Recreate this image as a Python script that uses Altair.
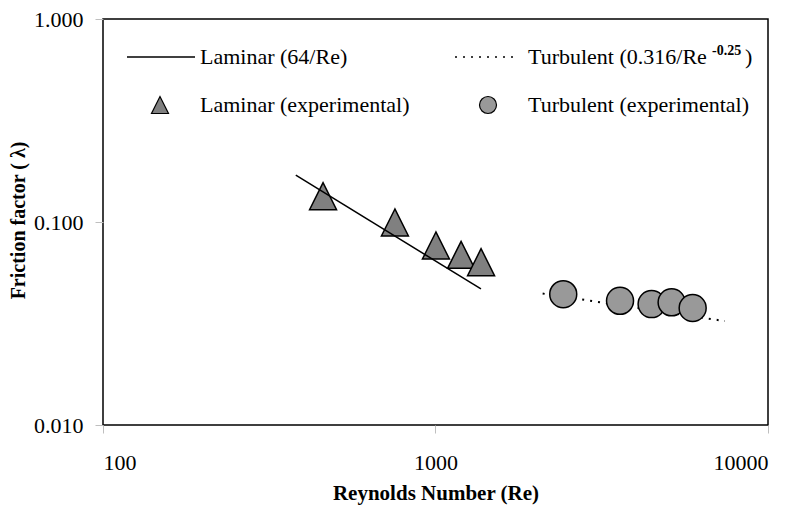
import altair as alt
import pandas as pd

# ---- data ----
lam_line_re = [380, 1370]
lam_line_f = [0.170, 0.0468]
turb_line_re = [2100, 7420]
turb_line_f = [0.0444, 0.0325]
lam_exp_re = [459, 755, 1003, 1194, 1371]
lam_exp_f = [0.134, 0.0994, 0.0766, 0.0689, 0.0634]
turb_exp_re = [2422, 3589, 4466, 5130, 5935]
turb_exp_f = [0.0441, 0.0409, 0.0394, 0.0402, 0.0377]

x_ticks = [100, 1000, 10000]
y_ticks = [0.01, 0.1, 1.0]

FONT = "Liberation Serif"
TRI = "M0,-1L-1,1L1,1Z"

xs = alt.Scale(type="log", domain=[100, 10000], nice=False)
ys = alt.Scale(type="log", domain=[0.01, 1.0], nice=False)

xax = alt.Axis(values=x_ticks, format="d", title="Reynolds Number (Re)", grid=False,
               domain=False, tickColor="#bfbfbf", tickSize=8, labelPadding=19,
               labelFont=FONT, labelFontSize=22, labelColor="black",
               titleFont=FONT, titleFontSize=21, titleFontWeight="bold",
               titleColor="black", titlePadding=9)
yax = alt.Axis(values=y_ticks, format=".3f", title="Friction factor ( λ)", grid=False,
               domain=False, tickColor="#bfbfbf", tickSize=8, labelPadding=12,
               labelFont=FONT, labelFontSize=22, labelColor="black",
               titleFont=FONT, titleFontSize=20, titleFontWeight="bold",
               titleColor="black", titleX=-85, titleY=201, titleAngle=270,
               titleAlign="center", titleBaseline="middle")

lam_line_df = pd.DataFrame({"Re": lam_line_re, "f": lam_line_f})
turb_line_df = pd.DataFrame({"Re": turb_line_re, "f": turb_line_f})
lam_df = pd.DataFrame({"Re": lam_exp_re, "f": lam_exp_f})
turb_df = pd.DataFrame({"Re": turb_exp_re, "f": turb_exp_f})

turb_line = alt.Chart(turb_line_df).mark_line(color="black", strokeWidth=2, strokeDash=[2, 6]).encode(
    x=alt.X("Re:Q", scale=xs, axis=xax), y=alt.Y("f:Q", scale=ys, axis=yax))
turb_pts = alt.Chart(turb_df).mark_point(shape="circle", filled=True, fill="#999999", stroke="black",
                                         strokeWidth=1.5, size=729, opacity=1).encode(
    x=alt.X("Re:Q", scale=xs), y=alt.Y("f:Q", scale=ys))
lam_pts = alt.Chart(lam_df).mark_point(shape=TRI, filled=True, fill="#808080", stroke="black",
                                       strokeWidth=1.5, size=729, opacity=1).encode(
    x=alt.X("Re:Q", scale=xs), y=alt.Y("f:Q", scale=ys))
lam_line = alt.Chart(lam_line_df).mark_line(color="black", strokeWidth=1.5).encode(
    x=alt.X("Re:Q", scale=xs), y=alt.Y("f:Q", scale=ys))

# ---- legend (drawn inside the plot area) ----
one = pd.DataFrame({"k": [0]})
def txt(s, x, y, size=22, weight="normal"):
    return alt.Chart(one).mark_text(text=s, font=FONT, fontSize=size, fontWeight=weight,
                                    align="left", baseline="middle", color="black").encode(
        x=alt.value(x), y=alt.value(y))

R1, R2 = 38, 86
leg = [
    alt.Chart(one).mark_rule(color="black", strokeWidth=1.5).encode(
        x=alt.value(24), x2=alt.value(92), y=alt.value(R1)),
    txt("Laminar (64/Re)", 97, R1),
    alt.Chart(one).mark_rule(color="black", strokeWidth=1.5, strokeDash=[2, 6]).encode(
        x=alt.value(352), x2=alt.value(414), y=alt.value(R1)),
    txt("Turbulent (0.316/Re", 425, R1),
    txt("-0.25", 609, R1 - 6, size=14, weight="bold"),
    txt(")", 642, R1),
    alt.Chart(one).mark_point(shape=TRI, filled=True, fill="#808080", stroke="black",
                              strokeWidth=1.2, size=289, opacity=1).encode(
        x=alt.value(57), y=alt.value(R2)),
    txt("Laminar (experimental)", 97, R2),
    alt.Chart(one).mark_point(shape="circle", filled=True, fill="#999999", stroke="black",
                              strokeWidth=1.2, size=289, opacity=1).encode(
        x=alt.value(385), y=alt.value(R2)),
    txt("Turbulent (experimental)", 425, R2),
]

chart = alt.layer(turb_line, turb_pts, lam_pts, lam_line, *leg).properties(
    width=665, height=406,
    autosize=alt.AutoSizeParams(type="none"),
    padding={"left": 95, "top": 11, "right": 24, "bottom": 83},
    background="white",
).configure_view(stroke="black", strokeWidth=1.5)

chart.save("out.html", embed_options={"renderer": "svg", "actions": False})
